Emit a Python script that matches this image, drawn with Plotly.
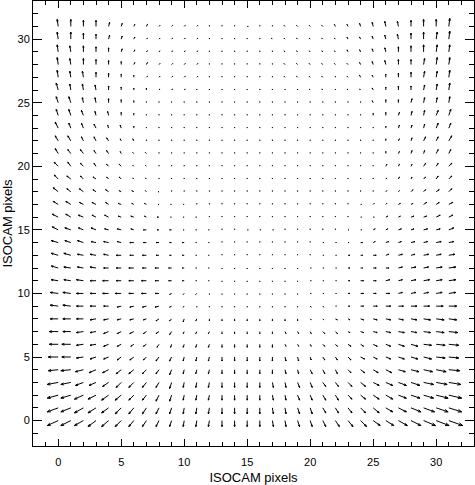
import numpy as np
import plotly.figure_factory as ff

# ISOCAM detector grid, 32 x 32 pixels
x_pix = list(range(32))
y_pix = list(range(32))

# distortion vectors, one list per detector row (row 0 at the bottom)
u_rows = [
    [-11, -10, -9, -8, -7, -6, -5, -4, -3, -2, -1, -1, -1, 0, 0, 0, 0, 1, 1, 2, 2, 3, 4, 5, 6, 7, 8, 9, 10, 12, 13, 14],
    [-11, -10, -9, -8, -7, -6, -5, -4, -3, -2, -1, -1, -1, 0, 0, 0, 0, 1, 1, 2, 2, 3, 3, 4, 5, 6, 7, 8, 10, 11, 12, 13],
    [-11, -10, -9, -8, -7, -6, -5, -4, -3, -2, -1, -1, -1, 0, 0, 0, 0, 1, 1, 2, 2, 3, 3, 4, 5, 6, 7, 8, 9, 10, 12, 13],
    [-11, -10, -8, -7, -6, -5, -5, -4, -3, -2, -1, -1, -1, 0, 0, 0, 0, 1, 1, 2, 2, 3, 3, 4, 5, 6, 7, 8, 9, 10, 11, 12],
    [-10, -10, -8, -7, -6, -5, -5, -4, -3, -2, -1, -1, -1, 0, 0, 0, 0, 0, 1, 1, 2, 2, 2, 3, 4, 5, 6, 7, 8, 9, 10, 11],
    [-10, -9, -7, -6, -5, -4, -4, -3, -3, -2, -1, -1, -1, 0, 0, 0, 0, 0, 1, 1, 1, 2, 2, 3, 4, 4, 5, 6, 7, 8, 9, 10],
    [-9, -9, -7, -6, -5, -4, -3, -3, -2, -1, -1, -1, -1, 0, 0, 0, 0, 0, 1, 1, 1, 2, 2, 3, 3, 4, 5, 6, 7, 8, 9, 10],
    [-9, -8, -7, -6, -5, -4, -4, -3, -3, -2, -1, -1, -1, 0, 0, 0, 0, 0, 1, 1, 1, 2, 2, 2, 3, 4, 5, 6, 6, 7, 8, 9],
    [-8, -8, -7, -6, -5, -4, -4, -3, -3, -2, -1, -1, 0, 0, 0, 0, 0, 0, 0, 0, 1, 1, 2, 2, 3, 4, 5, 5, 6, 7, 8, 8],
    [-8, -8, -7, -6, -5, -4, -4, -4, -4, -2, -1, 0, 0, 0, 0, 0, 0, 0, 0, 0, 1, 1, 1, 2, 3, 4, 5, 5, 6, 6, 7, 8],
    [-8, -8, -7, -6, -6, -6, -5, -5, -4, -2, -1, -1, 0, 0, 0, 0, 0, 0, 0, 0, 1, 1, 1, 2, 3, 3, 4, 4, 5, 5, 6, 7],
    [-7, -7, -7, -6, -6, -5, -5, -5, -4, -3, -2, -1, -1, 0, 0, 0, 0, 0, 0, 0, 1, 1, 1, 2, 3, 3, 4, 4, 5, 6, 6, 7],
    [-7, -7, -6, -6, -5, -5, -5, -4, -4, -3, -2, -1, -1, 0, 0, 0, 0, 0, 0, 0, 1, 1, 1, 2, 2, 3, 3, 4, 5, 5, 6, 7],
    [-7, -7, -6, -6, -5, -5, -4, -4, -3, -2, -2, -1, -1, 0, 0, 0, 0, 0, 0, 0, 0, 1, 1, 2, 2, 3, 3, 4, 4, 5, 5, 6],
    [-7, -6, -6, -5, -5, -4, -4, -3, -3, -2, -2, -1, -1, 0, 0, 0, 0, 0, 0, 0, 0, 1, 1, 1, 2, 2, 3, 3, 4, 4, 5, 5],
    [-6, -6, -5, -5, -4, -4, -3, -3, -2, -2, -1, -1, -1, 0, 0, 1, 1, 1, 0, 0, 0, 0, 0, 1, 1, 2, 2, 3, 3, 4, 4, 5],
    [-6, -5, -5, -4, -4, -3, -3, -2, -2, -1, -1, -1, 0, 0, 0, 0, 0, 0, 0, 0, 0, 0, 0, 0, 1, 1, 2, 2, 3, 3, 4, 4],
    [-5, -5, -4, -4, -3, -3, -2, -2, -1, -1, -1, 0, 0, 0, 0, 0, 0, 0, 0, 0, 0, 0, 0, 0, 1, 1, 1, 2, 2, 3, 3, 4],
    [-5, -4, -4, -3, -3, -2, -2, -1, -1, 0, 0, 0, 0, 0, 0, 0, 0, 0, 0, 0, 0, 0, 0, 0, 0, 0, 1, 1, 2, 2, 3, 3],
    [-4, -4, -3, -3, -2, -2, -1, -1, 0, 0, 0, 0, 0, 0, 0, 0, 0, 0, 0, 0, 0, 0, 0, 0, 0, 0, 1, 1, 1, 2, 2, 3],
    [-4, -3, -3, -2, -2, -2, -1, -1, 0, 0, 0, 0, 0, 0, 0, 0, 0, 0, 0, 0, 0, 0, 0, 0, 0, 0, 1, 1, 1, 2, 2, 3],
    [-3, -3, -3, -2, -2, -1, -1, -1, 0, 0, 0, 0, 0, 0, 0, 0, 0, 0, 0, 0, 0, 0, 0, 0, 0, 0, 0, 1, 1, 1, 2, 2],
    [-3, -3, -2, -2, -2, -1, -1, 0, 0, 0, 0, 0, 0, 0, 0, 0, 0, 0, 0, 0, 0, 0, 0, 0, 0, 0, 0, 1, 1, 2, 2, 3],
    [-3, -2, -2, -2, -1, -1, 0, 0, 0, 0, 0, 0, 0, 0, 0, 0, 0, 0, 0, 0, 0, 0, 0, 0, 0, 0, 0, 1, 1, 1, 2, 2],
    [-2, -2, -2, -1, -1, 0, 0, 0, 0, 0, 0, 0, 0, 0, 0, 0, 0, 0, 0, 0, 0, 0, 0, 0, 0, 0, 0, 1, 1, 1, 2, 2],
    [-2, -2, -1, -1, 0, 0, 0, 0, 0, 0, 0, 0, 0, 0, 0, 0, 0, 0, 0, 0, 0, 0, 0, 0, 0, -1, 0, 0, 1, 1, 1, 1],
    [-2, -1, -1, -1, 0, 0, 0, 0, 1, 1, 1, 0, 0, 0, 0, 0, 0, 0, 0, 0, -1, -1, 0, -1, -1, -1, 0, 0, 0, 1, 1, 1],
    [-1, -1, -1, 0, 0, 0, 0, 1, 1, 1, 1, 1, 0, 0, 0, 0, 0, 0, -1, -1, -1, -1, 0, -1, -1, -1, 0, 0, 0, 1, 1, 1],
    [-1, -1, 0, 0, 0, 0, 1, 1, 1, 1, 1, 1, 0, 0, 0, 0, 0, 0, -1, -1, -1, -1, -1, -1, -1, -1, -1, 0, 0, 1, 1, 1],
    [-1, -1, 0, 0, 0, 1, 1, 1, 1, 1, 1, 1, 0, 0, 0, 0, 0, 0, -1, -1, -1, -1, -1, -1, -1, -1, -1, 0, 0, 0, 1, 1],
    [-1, 0, 0, 0, 1, 1, 1, 1, 1, 1, 1, 1, 0, 0, 0, 0, 0, -1, -1, -1, -1, -1, -1, -1, -1, -1, -1, -1, 0, 0, 1, 1],
    [-1, 0, 0, 0, 1, 1, 1, 1, 1, 1, 1, 1, 0, 0, 0, 1, 0, 0, -1, -1, -1, -1, -1, -1, -1, -1, -1, -1, 0, 0, 0, 1],
]
v_rows = [
    [-5, -5, -5, -6, -6, -6, -6, -6, -6, -6, -6, -6, -6, -6, -6, -6, -6, -6, -6, -6, -6, -6, -6, -6, -6, -5, -5, -5, -5, -5, -5, -5],
    [-4, -4, -5, -5, -5, -6, -6, -6, -6, -6, -6, -6, -6, -6, -6, -6, -6, -6, -6, -6, -6, -5, -5, -5, -5, -5, -4, -4, -4, -4, -4, -4],
    [-3, -3, -4, -4, -5, -5, -5, -5, -6, -6, -5, -5, -5, -5, -5, -5, -5, -5, -5, -5, -5, -5, -5, -4, -4, -4, -4, -3, -3, -3, -3, -3],
    [-2, -2, -3, -3, -4, -5, -5, -5, -5, -6, -5, -5, -5, -5, -5, -5, -5, -5, -5, -5, -5, -4, -4, -4, -4, -3, -3, -3, -3, -2, -2, -2],
    [-1, -1, -2, -3, -3, -4, -4, -4, -4, -5, -4, -4, -4, -4, -4, -4, -4, -4, -4, -4, -4, -4, -4, -3, -3, -3, -3, -2, -2, -2, -2, -1],
    [0, 0, -1, -2, -2, -3, -3, -3, -4, -4, -4, -4, -4, -4, -4, -4, -4, -4, -4, -4, -3, -3, -3, -3, -2, -2, -2, -2, -2, -2, -1, -1],
    [0, 0, -1, -1, -2, -2, -2, -2, -3, -3, -3, -3, -3, -3, -3, -3, -3, -3, -2, -2, -2, -2, -2, -2, -2, -2, -2, -2, -2, -1, -1, -1],
    [0, 0, -1, -1, -2, -2, -2, -2, -2, -3, -2, -2, -2, -2, -2, -2, -2, -2, -2, -2, -2, -2, -2, -1, -1, -1, -1, -1, -1, -1, -1, -1],
    [0, 0, 0, -1, -1, -1, -1, -1, -2, -2, -3, -2, -2, -2, -2, -2, -2, -2, -2, -2, -1, -1, -1, -1, -1, -1, -1, -1, -1, -1, -1, -1],
    [1, 1, 0, 0, 0, -1, -1, -1, -1, -1, -1, -1, -1, -1, -1, -1, -1, -1, -1, -1, -1, -1, 0, 0, 0, 0, 0, 0, 0, 0, 0, 0],
    [1, 1, 0, 0, 0, 0, 0, 0, 0, -1, -1, -1, -1, -1, -1, -1, -1, -1, -1, -1, 0, 0, 0, 0, 0, 0, 0, 1, 1, 1, 1, 1],
    [1, 1, 1, 0, 0, 0, 0, 0, 0, 0, 0, 0, 0, -1, -1, -1, -1, -1, -1, -1, 0, 0, 0, 0, 0, 0, 1, 1, 1, 1, 1, 1],
    [2, 1, 1, 1, 0, 0, 0, 0, 0, 0, 0, 0, 0, -1, -1, -1, -1, -1, -1, -1, 0, 0, 0, 0, 0, 0, 0, 1, 1, 1, 1, 1],
    [2, 2, 1, 1, 1, 0, 0, 0, 0, 0, 0, 0, 0, 1, 1, 1, 1, 1, 1, 1, 1, 0, 0, 0, 0, 0, 1, 1, 1, 1, 1, 1],
    [2, 2, 2, 1, 1, 1, 0, 0, 0, 0, 0, 0, 0, 1, 1, 1, 1, 1, 1, 1, 1, 0, 0, 0, 0, 1, 1, 1, 1, 1, 1, 1],
    [3, 2, 2, 2, 1, 1, 1, 0, 0, 0, 0, 0, 0, 1, 1, 0, 0, 0, 1, 1, 1, 1, 1, 0, 0, 1, 1, 1, 1, 1, 1, 2],
    [3, 3, 2, 2, 2, 1, 1, 1, 0, 0, 0, 0, 1, 1, 1, 1, 1, 1, 1, 1, 1, 1, 1, 1, 0, 0, 1, 1, 1, 1, 2, 2],
    [3, 3, 2, 2, 2, 1, 1, 1, 0, 0, 0, 1, 1, 1, 1, 1, 1, 1, 1, 1, 1, 1, 1, 1, 0, 1, 1, 1, 1, 2, 2, 2],
    [4, 3, 3, 2, 2, 1, 1, 1, 0, 1, 1, 1, 1, 1, 1, 1, 1, 1, 1, 1, 1, 1, 1, 1, 1, 1, 1, 1, 2, 2, 2, 3],
    [4, 3, 3, 2, 2, 2, 1, 1, 1, 1, 1, 1, 1, 1, 1, 1, 1, 1, 1, 1, 1, 1, 1, 1, 1, 1, 1, 2, 2, 2, 3, 3],
    [4, 4, 3, 3, 2, 2, 1, 1, 1, 1, 1, 1, 1, 1, 1, 1, 1, 1, 1, 1, 1, 1, 1, 1, 1, 1, 2, 2, 2, 3, 3, 3],
    [5, 4, 4, 3, 3, 2, 1, 1, 1, 1, 1, 1, 1, 1, 1, 1, 1, 1, 1, 1, 1, 1, 1, 1, 1, 1, 2, 2, 3, 3, 4, 4],
    [5, 5, 4, 4, 3, 2, 2, 1, 1, 1, 1, 1, 1, 1, 1, 1, 1, 1, 1, 1, 1, 1, 1, 1, 1, 1, 2, 2, 3, 4, 4, 5],
    [6, 5, 5, 4, 3, 3, 2, 1, 1, 1, 1, 1, 1, 1, 1, 1, 1, 1, 1, 1, 1, 1, 1, 1, 1, 1, 2, 3, 3, 4, 5, 5],
    [6, 6, 5, 4, 4, 3, 2, 1, 1, 1, 1, 1, 1, 1, 1, 1, 1, 1, 1, 1, 1, 1, 1, 1, 1, 2, 3, 3, 4, 5, 5, 6],
    [6, 6, 5, 5, 4, 3, 2, 1, 1, 1, 1, 1, 1, 1, 1, 1, 1, 1, 1, 1, 1, 1, 1, 1, 1, 2, 3, 3, 4, 5, 5, 6],
    [7, 6, 6, 5, 4, 3, 2, 2, 1, 1, 1, 1, 1, 1, 1, 1, 1, 1, 1, 1, 1, 1, 1, 1, 1, 2, 3, 4, 4, 5, 6, 7],
    [7, 6, 6, 5, 4, 3, 2, 1, 1, 1, 1, 1, 1, 1, 1, 1, 1, 1, 1, 1, 1, 1, 1, 1, 2, 2, 3, 4, 5, 6, 6, 7],
    [7, 6, 6, 5, 4, 3, 2, 2, 1, 1, 1, 1, 1, 1, 1, 1, 1, 1, 1, 1, 1, 1, 1, 1, 2, 3, 4, 5, 5, 6, 7, 7],
    [7, 6, 6, 5, 4, 3, 2, 1, 1, 1, 1, 1, 1, 1, 1, 1, 1, 1, 1, 1, 1, 1, 1, 2, 2, 3, 4, 5, 6, 7, 7, 7],
    [7, 7, 6, 5, 4, 3, 2, 1, 1, 1, 1, 1, 1, 1, 1, 1, 1, 1, 1, 1, 1, 1, 1, 2, 2, 3, 4, 5, 6, 7, 7, 8],
    [7, 7, 6, 6, 4, 3, 2, 2, 1, 1, 1, 1, 1, 1, 1, 0, 1, 1, 1, 1, 1, 1, 2, 2, 3, 4, 5, 5, 6, 7, 7, 8],
]

X, Y = np.meshgrid(x_pix, y_pix)
U = np.array(u_rows, dtype=float)
V = np.array(v_rows, dtype=float)

# arrows start on the pixel centre, like IDL velovect output
fig = ff.create_quiver(X.ravel(), Y.ravel(), U.ravel(), V.ravel(),
                       scale=0.079, arrow_scale=0.3, angle=np.pi / 9,
                       line=dict(color="black", width=1), hoverinfo="skip")

fig.update_layout(width=475, height=485,
                  margin=dict(l=33, r=1, t=1, b=39),
                  paper_bgcolor="white", plot_bgcolor="white",
                  showlegend=False,
                  font=dict(family="Liberation Sans, Arial, sans-serif", size=11, color="black"))

axis_style = dict(showline=True, linecolor="black", linewidth=1, mirror="ticks",
                  showgrid=False, zeroline=False, automargin=False,
                  ticks="inside", tickcolor="black", tick0=0, dtick=5,
                  minor=dict(ticks="inside", dtick=1, tickcolor="black", showgrid=False))

fig.update_xaxes(range=[-2, 33], ticklen=7, minor_ticklen=4, ticklabelstandoff=6,
                 title=dict(text="ISOCAM pixels", standoff=6), **axis_style)
fig.update_yaxes(range=[-2, 33], ticklen=9, minor_ticklen=5,
                 title=dict(text="ISOCAM pixels", standoff=2), **axis_style)

# page body margin would push the figure off the 475 px window
fig.write_html("out.html", config={"displayModeBar": False},
               post_script="document.body.style.margin='0';")
